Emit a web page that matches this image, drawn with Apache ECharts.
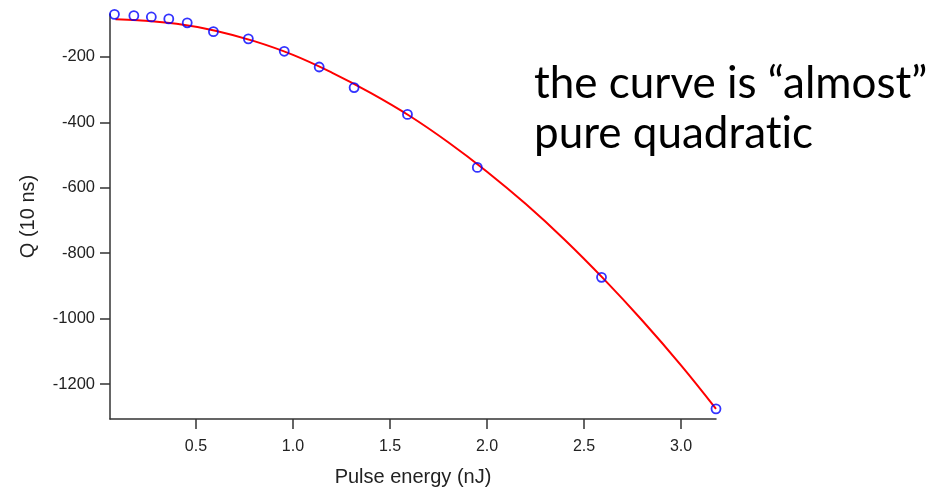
<!DOCTYPE html>
<html>
<head>
<meta charset="utf-8">
<title>Q vs pulse energy</title>
<script src="https://cdn.jsdelivr.net/npm/echarts@6.0.0/dist/echarts.min.js"></script>
<style>
  html, body { margin: 0; padding: 0; background: #fff; }
  #chart { width: 940px; height: 492px; }
</style>
</head>
<body>
<div id="chart"></div>
<script>
// measured points (blue circles)
const pulseEnergy = [0.08, 0.18, 0.27, 0.36, 0.455, 0.59, 0.77, 0.955, 1.135, 1.315, 1.59, 1.95, 2.59, 3.18];
const charge = [-70, -74, -78, -84, -96, -123, -145, -183, -231, -294, -376, -538, -874, -1276];

// fit curve (red)
const fitEnergy = [0.085, 0.2, 0.4, 0.6, 0.8, 1.0, 1.2, 1.4, 1.6, 1.8, 2.0, 2.2, 2.4, 2.6, 2.8, 3.0, 3.18];
const fitCharge = [-85, -88, -99, -120, -152, -194, -248, -310, -380, -461, -551, -650, -759, -878, -1006, -1143, -1276];

// tick labels
const xTicks = [0.5, 1.0, 1.5, 2.0, 2.5, 3.0];
const yTicks = [-1200, -1000, -800, -600, -400, -200];

// \u200c keeps "ti" from turning into a ligature
const note = ['the curve is \u201calmost\u201d', 'pure quadrat\u200cic'];

const chart = echarts.init(document.getElementById('chart'));

const axisFont = 'Liberation Sans';
const axisColor = '#333';

chart.setOption({
  animation: false,
  backgroundColor: '#fff',
  grid: { left: 110, right: 224, top: 14, bottom: 71 },
  xAxis: {
    type: 'value',
    min: 0.057,
    max: 3.18,
    name: 'Pulse energy (nJ)',
    nameLocation: 'middle',
    nameGap: 48,
    nameTextStyle: { fontFamily: axisFont, fontSize: 20, color: '#222' },
    axisLine: { onZero: false, lineStyle: { color: axisColor, width: 1.5 } },
    axisTick: { show: true, length: 10, customValues: xTicks, lineStyle: { color: axisColor, width: 1.5 } },
    axisLabel: {
      customValues: xTicks,
      margin: 20,
      fontFamily: axisFont,
      fontSize: 16,
      color: '#222',
      formatter: v => v.toFixed(1)
    },
    splitLine: { show: false }
  },
  yAxis: {
    type: 'value',
    min: -1307,
    max: -69,
    name: 'Q (10 ns)',
    nameLocation: 'middle',
    nameGap: 72,
    nameTextStyle: { fontFamily: axisFont, fontSize: 20, color: '#222' },
    axisLine: { show: true, onZero: false, lineStyle: { color: axisColor, width: 1.5 } },
    axisTick: { show: true, length: 10, customValues: yTicks, lineStyle: { color: axisColor, width: 1.5 } },
    axisLabel: {
      customValues: yTicks,
      margin: 15,
      fontFamily: axisFont,
      fontSize: 16.5,
      color: '#222',
      formatter: v => String(v)
    },
    splitLine: { show: false }
  },
  series: [
    {
      name: 'fit',
      type: 'line',
      data: fitEnergy.map((x, i) => [x, fitCharge[i]]),
      smooth: 0.4,
      showSymbol: false,
      clip: false,
      lineStyle: { color: '#ff0000', width: 2 },
      z: 2
    },
    {
      name: 'Q',
      type: 'scatter',
      data: pulseEnergy.map((x, i) => [x, charge[i]]),
      symbol: 'circle',
      symbolSize: 9,
      clip: false,
      itemStyle: { color: 'rgba(255,255,255,0)', borderColor: '#0000ff', borderWidth: 1.8 },
      z: 3
    }
  ],
  graphic: [
    {
      type: 'text',
      left: 534,
      top: 62,
      style: { text: note[0], font: '44px Lato', fill: '#000' }
    },
    {
      type: 'text',
      left: 534,
      top: 112,
      style: { text: note[1], font: '44px Lato', fill: '#000' }
    }
  ]
});
</script>
</body>
</html>
